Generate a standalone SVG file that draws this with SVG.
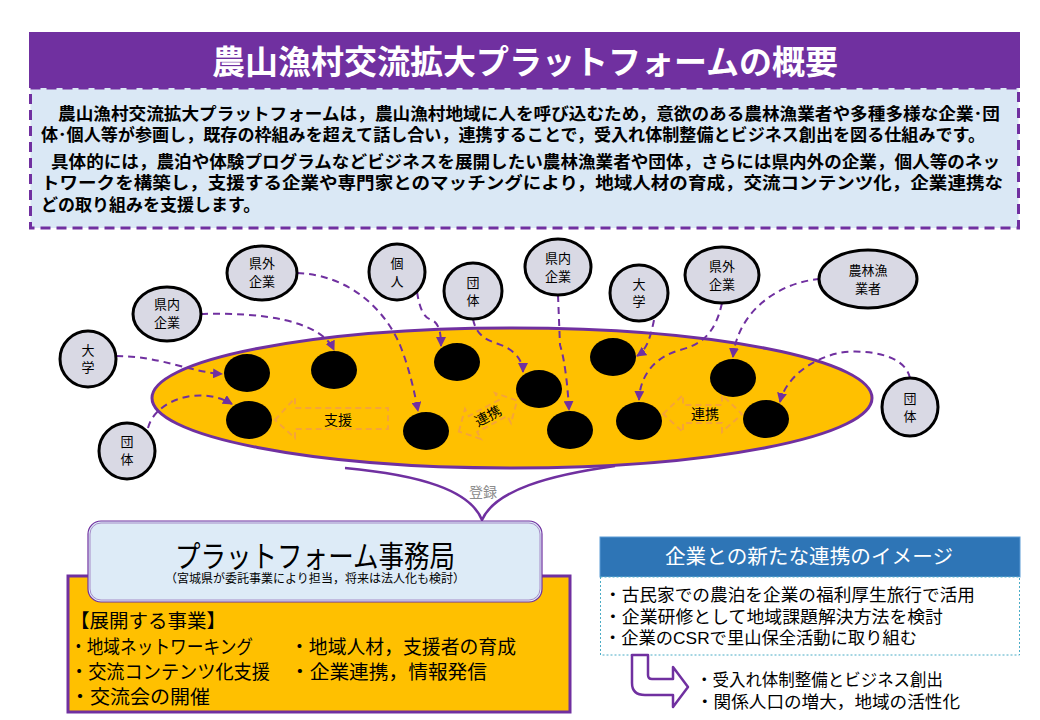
<svg xmlns="http://www.w3.org/2000/svg" width="1040" height="720" viewBox="0 0 1040 720">
<defs>
<style>
.jp{font-family:"Liberation Sans","Noto Sans CJK JP",sans-serif;}
.desc{font-size:17px;font-weight:bold;fill:#000;}
.node ellipse{fill:#D9D9E4;stroke:#000;stroke-width:3;}
.node text{font-size:13px;fill:#000;text-anchor:middle;}
.dot{fill:#000;}
.conn path{fill:none;stroke:#7030A0;stroke-width:2;stroke-dasharray:7 5;marker-end:url(#ah);}
.hollow{fill:none;stroke:#F5A43A;stroke-width:2;stroke-dasharray:6 4;}
.lbl{font-size:14px;fill:#000;text-anchor:middle;}
.orange{font-size:19px;fill:#000;}
.blue{font-size:17px;fill:#000;}
</style>
<marker id="ah" viewBox="0 0 10 10" refX="9" refY="5" markerWidth="5" markerHeight="5" orient="auto" markerUnits="strokeWidth">
<path d="M0,0 L10,5 L0,10 Z" fill="#7030A0"/>
</marker>
</defs>
<rect width="1040" height="720" fill="#fff"/>

<!-- Title -->
<g id="title">
<rect x="29" y="32" width="991" height="56" fill="#7030A0"/>
<text class="jp" x="525" y="74" font-size="33" font-weight="bold" fill="#fff" text-anchor="middle">農山漁村交流拡大プラットフォームの概要</text>
</g>

<!-- Description -->
<g id="description">
<rect x="30.5" y="88" width="988" height="140" fill="#DAE8F5" stroke="#7030A0" stroke-width="3" stroke-dasharray="10 6"/>
<text class="jp desc" x="58" y="120" textLength="942" lengthAdjust="spacingAndGlyphs">農山漁村交流拡大プラットフォームは，農山漁村地域に人を呼び込むため，意欲のある農林漁業者や多種多様な企業･団</text>
<text class="jp desc" x="41" y="141" textLength="944" lengthAdjust="spacingAndGlyphs">体･個人等が参画し，既存の枠組みを超えて話し合い，連携することで，受入れ体制整備とビジネス創出を図る仕組みです。</text>
<text class="jp desc" x="51" y="168" textLength="949" lengthAdjust="spacingAndGlyphs">具体的には，農泊や体験プログラムなどビジネスを展開したい農林漁業者や団体，さらには県内外の企業，個人等のネッ</text>
<text class="jp desc" x="41" y="189" textLength="962" lengthAdjust="spacingAndGlyphs">トワークを構築し，支援する企業や専門家とのマッチングにより，地域人材の育成，交流コンテンツ化，企業連携な</text>
<text class="jp desc" x="41" y="211">どの取り組みを支援します。</text>
</g>

<!-- Registration bracket -->
<g id="bracket">
<path d="M345,468 C420,475 470,490 482,520 C495,490 550,475 615,466" fill="none" stroke="#7030A0" stroke-width="2.5"/>
<text class="jp" x="483" y="497" font-size="14" fill="#8C8C8C" text-anchor="middle">登録</text>
</g>

<!-- Platform ellipse -->
<g id="platform">
<ellipse cx="512" cy="398" rx="360" ry="70" fill="#FFC000" stroke="#7030A0" stroke-width="3"/>
<path class="hollow" d="M275,420 L295,398 L295,408 L388,408 L388,429 L295,429 L295,438 Z"/>
<text class="jp lbl" x="338" y="425">支援</text>
<g transform="rotate(-28 488 416)">
<path class="hollow" d="M455,416 L471,399 L471,407 L505,407 L505,399 L521,416 L505,433 L505,425 L471,425 L471,433 Z"/>
<text class="jp lbl" x="488" y="421">連携</text>
</g>
<path class="hollow" d="M663,414 L683,395 L683,405 L722,405 L722,395 L742,414 L722,432 L722,423 L683,423 L683,432 Z"/>
<text class="jp lbl" x="705" y="419">連携</text>
<ellipse class="dot" cx="247" cy="373" rx="23" ry="19"/>
<ellipse class="dot" cx="249" cy="420" rx="23" ry="19"/>
<ellipse class="dot" cx="334" cy="370" rx="23" ry="19"/>
<ellipse class="dot" cx="457" cy="362" rx="23" ry="19"/>
<ellipse class="dot" cx="426" cy="431" rx="23" ry="19"/>
<ellipse class="dot" cx="539" cy="389" rx="23" ry="19"/>
<ellipse class="dot" cx="570" cy="430" rx="23" ry="19"/>
<ellipse class="dot" cx="613" cy="357" rx="23" ry="19"/>
<ellipse class="dot" cx="639" cy="421" rx="23" ry="19"/>
<ellipse class="dot" cx="733" cy="378" rx="23" ry="19"/>
<ellipse class="dot" cx="766" cy="419" rx="23" ry="19"/>
</g>

<!-- Connectors -->
<g id="connectors" class="conn">
<path d="M116,356 C160,356 190,372 222,374"/>
<path d="M148,428 C155,400 200,385 232,404"/>
<path d="M201,314 C260,312 320,320 334,350"/>
<path d="M297,273 C350,275 385,310 400,345 C410,370 415,395 418,411"/>
<path d="M417,292 C420,310 424,318 432,320 C440,324 441,335 441,346"/>
<path d="M473,319 C478,345 500,340 513,352 C520,358 523,365 523,372"/>
<path d="M558,295 L560,345 C565,360 568,390 569,410"/>
<path d="M654,320 C650,340 646,350 637,356"/>
<path d="M722,303 C715,335 700,345 680,350 C655,357 640,375 639,400"/>
<path d="M820,279 C780,282 738,310 733,357"/>
<path d="M910,378 C905,355 870,350 845,352 C810,357 785,380 780,402"/>
</g>

<!-- Participant nodes -->
<g id="n-daigaku1" class="node"><ellipse cx="88" cy="359" rx="28" ry="28"/><text class="jp" x="88" y="355">大</text><text class="jp" x="88" y="372">学</text></g>
<g id="n-kennai1" class="node"><ellipse cx="167" cy="314" rx="34" ry="27"/><text class="jp" x="167" y="309">県内</text><text class="jp" x="167" y="327">企業</text></g>
<g id="n-kengai1" class="node"><ellipse cx="262" cy="273" rx="35" ry="27"/><text class="jp" x="262" y="268">県外</text><text class="jp" x="262" y="286">企業</text></g>
<g id="n-dantai1" class="node"><ellipse cx="127" cy="451" rx="28" ry="28"/><text class="jp" x="127" y="446">団</text><text class="jp" x="127" y="464">体</text></g>
<g id="n-kojin" class="node"><ellipse cx="397" cy="272" rx="28" ry="28"/><text class="jp" x="397" y="268">個</text><text class="jp" x="397" y="286">人</text></g>
<g id="n-dantai2" class="node"><ellipse cx="473" cy="291" rx="29" ry="28"/><text class="jp" x="473" y="287">団</text><text class="jp" x="473" y="305">体</text></g>
<g id="n-kennai2" class="node"><ellipse cx="558" cy="267" rx="33" ry="28"/><text class="jp" x="558" y="263">県内</text><text class="jp" x="558" y="281">企業</text></g>
<g id="n-daigaku2" class="node"><ellipse cx="639" cy="293" rx="29" ry="28"/><text class="jp" x="639" y="289">大</text><text class="jp" x="639" y="306">学</text></g>
<g id="n-kengai2" class="node"><ellipse cx="722" cy="275" rx="37" ry="28"/><text class="jp" x="722" y="271">県外</text><text class="jp" x="722" y="289">企業</text></g>
<g id="n-noringyo" class="node"><ellipse cx="868" cy="279" rx="49" ry="29"/><text class="jp" x="868" y="275">農林漁</text><text class="jp" x="868" y="293">業者</text></g>
<g id="n-dantai3" class="node"><ellipse cx="910" cy="407" rx="28" ry="29"/><text class="jp" x="910" y="403">団</text><text class="jp" x="910" y="421">体</text></g>

<!-- Business box -->
<g id="business">
<rect x="68" y="576" width="502" height="136" fill="#FFC000" stroke="#7030A0" stroke-width="3"/>
<text class="jp orange" x="70" y="628" textLength="156" lengthAdjust="spacingAndGlyphs">【展開する事業】</text>
<text class="jp orange" x="70" y="654" textLength="183" lengthAdjust="spacingAndGlyphs">・地域ネットワーキング</text>
<text class="jp orange" x="70" y="679" textLength="200" lengthAdjust="spacingAndGlyphs">・交流コンテンツ化支援</text>
<text class="jp orange" x="70" y="704" textLength="140" lengthAdjust="spacingAndGlyphs">・交流会の開催</text>
<text class="jp orange" x="290" y="654" textLength="226" lengthAdjust="spacingAndGlyphs">・地域人材，支援者の育成</text>
<text class="jp orange" x="290" y="679" textLength="197" lengthAdjust="spacingAndGlyphs">・企業連携，情報発信</text>
</g>

<!-- Office -->
<g id="office">
<rect x="88" y="521" width="454" height="81" rx="13" fill="#DDEBF7" stroke="#7030A0" stroke-width="1.2"/>
<rect x="90" y="523" width="450" height="77" rx="11" fill="none" stroke="#A58CC8" stroke-width="1"/>
<text class="jp" x="315" y="567" font-size="30" fill="#000" text-anchor="middle" textLength="280" lengthAdjust="spacingAndGlyphs">プラットフォーム事務局</text>
<text class="jp" x="315" y="583" font-size="12" fill="#000" text-anchor="middle" textLength="300" lengthAdjust="spacingAndGlyphs">（宮城県が委託事業により担当，将来は法人化も検討）</text>
</g>

<!-- Enterprise collaboration box -->
<g id="enterprise">
<rect x="600" y="537" width="420" height="40" fill="#2E75B6" stroke="#5B9BD5" stroke-width="1"/>
<text class="jp" x="809" y="564" font-size="20" fill="#fff" text-anchor="middle" textLength="288" lengthAdjust="spacingAndGlyphs">企業との新たな連携のイメージ</text>
<rect x="600.5" y="577" width="419" height="78" fill="#fff" stroke="#4BACC6" stroke-width="1" stroke-dasharray="2 2"/>
<text class="jp blue" x="604" y="601" textLength="371" lengthAdjust="spacingAndGlyphs">・古民家での農泊を企業の福利厚生旅行で活用</text>
<text class="jp blue" x="604" y="623" textLength="339" lengthAdjust="spacingAndGlyphs">・企業研修として地域課題解決方法を検討</text>
<text class="jp blue" x="604" y="644" textLength="313" lengthAdjust="spacingAndGlyphs">・企業のCSRで里山保全活動に取り組む</text>
</g>

<!-- Result arrow -->
<g id="result">
<path d="M632,655 L632,683 Q632,695 645,695 L673,695 L673,707 L688,687 L673,667 L673,679 L652,679 Q648,679 648,675 L648,655 Z" fill="#fff" stroke="#7030A0" stroke-width="2.5" stroke-linejoin="round"/>
<text class="jp blue" x="696" y="686" textLength="247" lengthAdjust="spacingAndGlyphs">・受入れ体制整備とビジネス創出</text>
<text class="jp blue" x="696" y="708" textLength="264" lengthAdjust="spacingAndGlyphs">・関係人口の増大，地域の活性化</text>
</g>
</svg>
